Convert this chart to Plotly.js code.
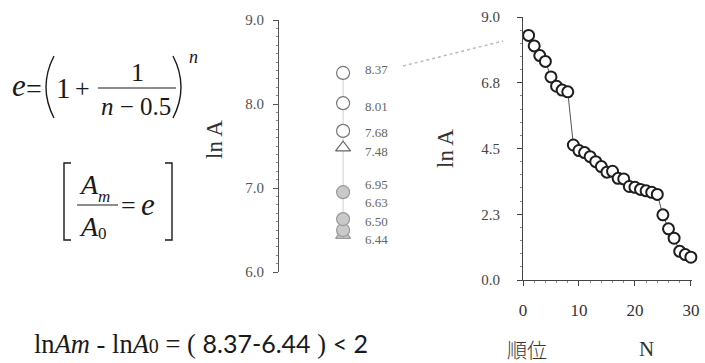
<!DOCTYPE html>
<html>
<head>
<meta charset="utf-8">
<script src="https://cdn.plot.ly/plotly-3.0.1.min.js"></script>
<style>
  html, body { margin: 0; padding: 0; background: #fff; }
  #chart { width: 705px; height: 363px; }
</style>
</head>
<body>
<div id="chart"></div>
<script>
// ln A of the eight largest values, shown as a single column
const topLabels = ['8.37', '8.01', '7.68', '7.48', '6.95', '6.63', '6.50', '6.44'];
const topValues = [8.37, 8.01, 7.68, 7.48, 6.95, 6.63, 6.50, 6.44];

// ln A of all thirty values, in rank order
const rank = [1, 2, 3, 4, 5, 6, 7, 8, 9, 10, 11, 12, 13, 14, 15,
              16, 17, 18, 19, 20, 21, 22, 23, 24, 25, 26, 27, 28, 29, 30];
const lnA = [8.37, 8.01, 7.68, 7.48, 6.95, 6.63, 6.50, 6.44,
             4.62, 4.43, 4.36, 4.22, 4.05, 3.88, 3.69, 3.72, 3.48, 3.46,
             3.20, 3.17, 3.10, 3.05, 3.00, 2.93, 2.23, 1.75, 1.43, 0.98, 0.87, 0.78];

// axis ticks
const columnTickVals = [6, 7, 8, 9];
const columnTickText = ['6.0', '7.0', '8.0', '9.0'];
const rankTickVals = [0, 10, 20, 30];
const lnTickVals = [0, 2.25, 4.5, 6.75, 9];
const lnTickText = ['0.0', '2.3', '4.5', '6.8', '9.0'];

// page geometry helpers (pixel -> paper fraction)
const W = 705, H = 363;
const px = v => v / W;
const py = v => 1 - v / H;

const SERIF = 'Liberation Serif, DejaVu Serif, serif';

// per-point marker styling of the column
const colSymbols = ['circle', 'circle', 'circle', 'triangle-up', 'circle', 'circle', 'circle', 'triangle-up'];
const colFill = ['#ffffff', '#ffffff', '#ffffff', '#ffffff', '#c9c9c9', '#c9c9c9', '#c9c9c9', '#c9c9c9'];
const colEdge = ['#777', '#777', '#777', '#666', '#999', '#999', '#999', '#999'];
// vertical nudges (px) that keep the value labels apart
const labelShift = [3, -3, -2, -4, 8, 17, 9, -4];

// points are drawn bottom first so the upper markers sit on top
const order = topValues.map((_, i) => i).reverse();
const pick = arr => order.map(i => arr[i]);

const columnLine = {
  x: topValues.map(() => 0), y: topValues,
  xaxis: 'x', yaxis: 'y', mode: 'lines', hoverinfo: 'skip',
  line: { color: '#cfcfcf', width: 1 }
};
const columnMarks = {
  x: topValues.map(() => 0), y: pick(topValues),
  xaxis: 'x', yaxis: 'y', mode: 'markers', cliponaxis: false,
  marker: {
    symbol: pick(colSymbols), size: 13, color: pick(colFill),
    line: { color: pick(colEdge), width: 1.2 }
  }
};
const rankTrace = {
  x: rank, y: lnA, xaxis: 'x2', yaxis: 'y2', mode: 'lines+markers', cliponaxis: false,
  line: { color: '#555', width: 1 },
  marker: { symbol: 'circle', size: 11, color: '#fff', line: { color: '#1e1e1e', width: 2 } }
};

const annotations = [];
function txt(text, x, y, size, extra) {
  annotations.push(Object.assign({
    text: text, x: px(x), y: py(y), xref: 'paper', yref: 'paper',
    xanchor: 'center', yanchor: 'middle', showarrow: false,
    font: { family: SERIF, size: size, color: '#1a1a1a' }
  }, extra || {}));
}

// column value labels
topLabels.forEach((t, i) => {
  annotations.push({
    text: t, x: 0, y: topValues[i], xref: 'x', yref: 'y',
    xanchor: 'left', yanchor: 'middle', xshift: 20, yshift: labelShift[i],
    showarrow: false, font: { family: SERIF, size: 13, color: '#666' }
  });
});

// axis titles
txt('ln A', 214, 140, 23, { textangle: -90, font: { family: SERIF, size: 23, color: '#333' } });
txt('ln A', 445, 149, 23, { textangle: -90, font: { family: SERIF, size: 23, color: '#333' } });
txt('順位', 527, 349, 20, { font: { family: 'Noto Sans CJK JP', size: 20, color: '#333', weight: 300 } });
txt('N', 646, 349, 21, { font: { family: SERIF, size: 21, color: '#333' } });

// e = (1 + 1/(n-0.5))^n
txt('<i>e</i>', 19, 86, 31);
txt('=', 34, 88, 28);
txt('1', 63, 88, 29);
txt('+', 82, 88, 26);
txt('1', 137, 72, 26);
txt('<i>n</i> − 0.5', 136, 106, 25);
txt('<i>n</i>', 193, 57, 18);

// [ Am / A0 = e ]
txt('<i>A</i>', 89, 184, 28);
txt('<i>m</i>', 104, 196, 17);
txt('=', 128, 206, 26);
txt('<i>e</i>', 148, 204, 31);
txt('<i>A</i>', 89, 226, 28);
txt('0', 103, 233, 17);

// ln Am - ln A0 difference line
const diffText = 'ln<i>A</i><i>m</i> - ln<i>A</i><span style="font-size:20px">0</span> = ( ' +
  '<span style="font-family:Lato;font-size:25px">' + topLabels[0] + '-' + topLabels[topLabels.length - 1] + '</span>' +
  ' ) <span style="font-family:Lato;font-size:25px">&lt; 2</span>';
annotations.push({
  text: diffText, x: px(32), y: py(343), xref: 'paper', yref: 'paper',
  xanchor: 'left', yanchor: 'middle', showarrow: false,
  font: { family: SERIF, size: 26.5, color: '#1a1a1a' }
});

const ink = { color: '#1a1a1a', width: 1.4 };
const P = (x, y) => px(x) + ',' + py(y);
const shapes = [
  // large parentheses
  { type: 'path', xref: 'paper', yref: 'paper', path: 'M' + P(54, 56) + ' Q' + P(38, 87) + ' ' + P(54, 118), line: ink },
  { type: 'path', xref: 'paper', yref: 'paper', path: 'M' + P(173, 56) + ' Q' + P(189, 87) + ' ' + P(173, 118), line: ink },
  // fraction bars
  { type: 'line', xref: 'paper', yref: 'paper', x0: px(98), x1: px(176), y0: py(88), y1: py(88), line: { color: '#1a1a1a', width: 1.2 } },
  { type: 'line', xref: 'paper', yref: 'paper', x0: px(77), x1: px(118), y0: py(205), y1: py(205), line: { color: '#1a1a1a', width: 1.2 } },
  // square brackets
  { type: 'path', xref: 'paper', yref: 'paper', path: 'M' + P(71, 163) + ' L' + P(64, 163) + ' L' + P(64, 240) + ' L' + P(71, 240), line: ink },
  { type: 'path', xref: 'paper', yref: 'paper', path: 'M' + P(165, 163) + ' L' + P(172, 163) + ' L' + P(172, 240) + ' L' + P(165, 240), line: ink },
  // dotted link from the column to the ranked plot
  { type: 'line', xref: 'paper', yref: 'paper', x0: px(403), y0: py(66), x1: px(503), y1: py(41),
    line: { color: '#bbbbbb', width: 1.5, dash: 'dot' } }
];

const layout = {
  width: W, height: H,
  margin: { l: 0, r: 0, t: 0, b: 0 },
  showlegend: false,
  paper_bgcolor: '#ffffff', plot_bgcolor: 'rgba(0,0,0,0)',
  font: { family: SERIF, color: '#333' },
  xaxis: { domain: [px(279), px(420)], range: [-1, 1.2], visible: false, fixedrange: true },
  yaxis: {
    domain: [py(272), py(20)], range: [6, 9], anchor: 'x',
    tickvals: columnTickVals, ticktext: columnTickText,
    ticks: 'outside', ticklen: 5, tickcolor: '#555', tickwidth: 1,
    showline: true, linecolor: '#555', linewidth: 1,
    showgrid: false, zeroline: false, ticklabelstandoff: 6,
    tickfont: { family: SERIF, size: 15, color: '#555' },
    minor: { dtick: 0.1, ticks: 'outside', ticklen: 2, tickcolor: '#888', showgrid: false }
  },
  xaxis2: {
    domain: [px(523), px(692)], range: [0, 30.2], anchor: 'y2',
    tickvals: rankTickVals, ticks: 'outside', ticklen: 5, tickcolor: '#444',
    showline: true, linecolor: '#444', linewidth: 1,
    showgrid: false, zeroline: false, ticklabelstandoff: 10,
    tickfont: { family: SERIF, size: 17, color: '#333' },
    minor: { dtick: 2, ticks: 'outside', ticklen: 2, tickcolor: '#888', showgrid: false }
  },
  yaxis2: {
    domain: [py(280), py(17)], range: [0, 9], anchor: 'x2',
    tickvals: lnTickVals, ticktext: lnTickText,
    ticks: 'outside', ticklen: 5, tickcolor: '#444',
    showline: true, linecolor: '#444', linewidth: 1,
    showgrid: false, zeroline: false, ticklabelstandoff: 14,
    tickfont: { family: SERIF, size: 15, color: '#444' },
    minor: { dtick: 0.45, ticks: 'outside', ticklen: 2, tickcolor: '#888', showgrid: false }
  },
  annotations: annotations,
  shapes: shapes
};

Plotly.newPlot('chart', [columnLine, columnMarks, rankTrace], layout, { staticPlot: true, displayModeBar: false });
</script>
</body>
</html>
